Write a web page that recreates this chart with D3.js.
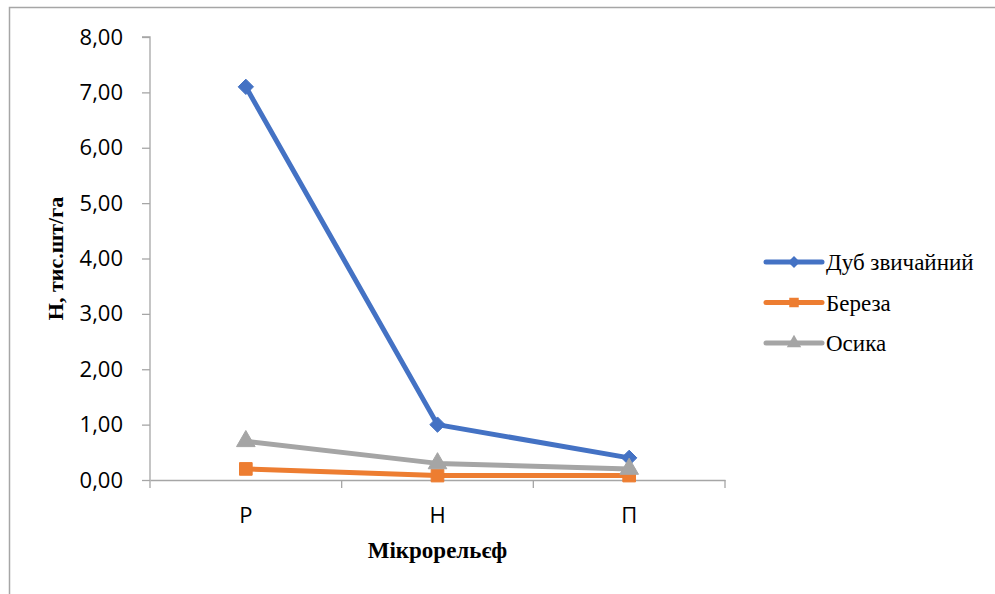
<!DOCTYPE html>
<html>
    <head>
        <meta charset="utf-8">
        <title>Мікрорельєф</title>
        <script src="https://d3js.org/d3.v7.min.js"></script>
        <style>
            body { margin: 0; background: #fff; }
        </style>
    </head>
    <body>
        <script>
            // Data
            const categories = ["Р", "Н", "П"];
            const seriesNames = ["Дуб звичайний", "Береза", "Осика"];
            const dubValues = [7.1, 1.0, 0.4];
            const berezaValues = [0.2, 0.08, 0.08];
            const osykaValues = [0.7, 0.3, 0.2];
            const yTicks = [0, 1, 2, 3, 4, 5, 6, 7, 8];

            const series = [
                { name: seriesNames[0], values: dubValues, color: "#4472c4", symbol: d3.symbolDiamond2, size: 150 },
                { name: seriesNames[1], values: berezaValues, color: "#ed7d31", symbol: d3.symbolSquare, size: 160 },
                { name: seriesNames[2], values: osykaValues, color: "#a5a5a5", symbol: d3.symbolTriangle, size: 150 }
            ];

            const svgWidth = 995;
            const svgHeight = 594;
            const margin = { top: 37, left: 150, right: 270, bottom: 114 };

            const svg = d3.select("body")
                .append("svg")
                    .attr("width", svgWidth)
                    .attr("height", svgHeight);

            // frame (only top and left edges visible)
            svg.append("path")
                .attr("d", `M9.5,${svgHeight} V7.5 H${svgWidth}`)
                .attr("fill", "none")
                .attr("stroke", "#a6a6a6")
                .attr("stroke-width", 1.5);

            const xScale = d3.scaleBand()
                .domain(categories)
                .range([margin.left, svgWidth - margin.right]);

            const yScale = d3.scaleLinear()
                .domain([0, 8])
                .range([svgHeight - margin.bottom, margin.top]);

            // y axis
            const yAxis = d3.axisLeft(yScale)
                .tickValues(yTicks)
                .tickSize(8)
                .tickPadding(19)
                .tickFormat(d => d3.format(".2f")(d).replace(".", ","));

            const gy = svg.append("g")
                .attr("transform", `translate(${margin.left},0)`)
                .call(yAxis);
            gy.selectAll("path, line").attr("stroke", "#a6a6a6").attr("stroke-width", 1.3);
            gy.select(".domain").attr("d", `M-8,${yScale(8)}H0V${yScale(0)}`);
            gy.selectAll("text")
                .attr("font-family", "'Open Sans', sans-serif")
                .attr("font-size", 22)
                .attr("fill", "#000");

            // x axis
            const xAxis = d3.axisBottom(xScale)
                .tickSize(0)
                .tickPadding(27);

            const gx = svg.append("g")
                .attr("transform", `translate(0,${yScale(0)})`)
                .call(xAxis);
            gx.select(".domain").attr("stroke", "#a6a6a6").attr("stroke-width", 1.3);
            gx.selectAll("text")
                .attr("font-family", "'Open Sans', sans-serif")
                .attr("font-size", 22)
                .attr("fill", "#000");

            // category boundary ticks
            const bounds = categories.map(c => xScale(c)).concat([xScale.range()[1]]);
            gx.selectAll(".bound")
                .data(bounds)
                .join("line")
                    .attr("class", "bound")
                    .attr("x1", d => d).attr("x2", d => d)
                    .attr("y1", 0).attr("y2", 8)
                    .attr("stroke", "#a6a6a6")
                    .attr("stroke-width", 1.3);

            // axis titles
            svg.append("text")
                .attr("x", (xScale.range()[0] + xScale.range()[1]) / 2)
                .attr("y", 558)
                .attr("text-anchor", "middle")
                .attr("font-family", "'Liberation Serif', 'Times New Roman', serif")
                .attr("font-weight", "bold")
                .attr("font-size", 23)
                .text("Мікрорельєф");

            svg.append("text")
                .attr("transform", `translate(63,${yScale(4)}) rotate(-90)`)
                .attr("text-anchor", "middle")
                .attr("font-family", "'Liberation Serif', 'Times New Roman', serif")
                .attr("font-weight", "bold")
                .attr("font-size", 22)
                .text("Н, тис.шт/га");

            // lines
            const line = d3.line()
                .x((d, i) => xScale(categories[i]) + xScale.bandwidth() / 2)
                .y(d => yScale(d));

            series.forEach(s => {
                svg.append("path")
                    .datum(s.values)
                    .attr("d", line)
                    .attr("fill", "none")
                    .attr("stroke", s.color)
                    .attr("stroke-width", 5)
                    .attr("stroke-linejoin", "round")
                    .attr("stroke-linecap", "round");
            });

            series.forEach(s => {
                svg.selectAll(null)
                    .data(s.values)
                    .join("path")
                        .attr("transform", (d, i) => `translate(${xScale(categories[i]) + xScale.bandwidth() / 2},${yScale(d)})`)
                        .attr("d", d3.symbol().type(s.symbol).size(s.size))
                        .attr("fill", s.color)
                        .attr("stroke", s.color);
            });

            // legend
            const legend = svg.append("g").attr("transform", "translate(766,262)");
            series.forEach((s, i) => {
                const g = legend.append("g").attr("transform", `translate(0,${i * 40.5})`);
                g.append("line")
                    .attr("x1", 0).attr("x2", 56)
                    .attr("stroke", s.color)
                    .attr("stroke-width", 5)
                    .attr("stroke-linecap", "round");
                g.append("path")
                    .attr("transform", "translate(28,0)")
                    .attr("d", d3.symbol().type(s.symbol).size(90))
                    .attr("fill", s.color);
                g.append("text")
                    .attr("x", 60)
                    .attr("dy", "0.35em")
                    .attr("font-family", "'Liberation Serif', 'Times New Roman', serif")
                    .attr("font-size", 23)
                    .text(s.name);
            });
        </script>
    </body>
</html>
